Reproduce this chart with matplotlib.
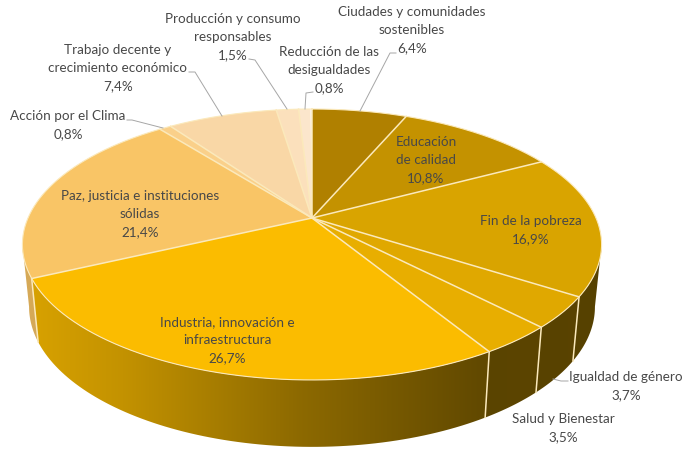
import numpy as np
import matplotlib
matplotlib.use("Agg")
import matplotlib.pyplot as plt
from matplotlib.patches import Polygon
from matplotlib.colors import to_rgb

# slices, clockwise from 12 o'clock
names = ["Ciudades y comunidades\nsostenibles", "Educación\nde calidad", "Fin de la pobreza",
         "Igualdad de género", "Salud y Bienestar", "Industria, innovación e\ninfraestructura",
         "Paz, justicia e instituciones\nsólidas", "Acción por el Clima",
         "Trabajo decente y\ncrecimiento económico", "Producción y consumo\nresponsables",
         "Reducción de las\ndesigualdades"]
values = [6.4, 10.8, 16.9, 3.7, 3.5, 26.7, 21.4, 0.8, 7.4, 1.5, 0.8]
colors = ["#b08000", "#c49200", "#d9a400", "#e0a800", "#e8ae00", "#fbbc00",
          "#f9c566", "#fad08a", "#f9d7a6", "#fbe0bc", "#fbe6cc"]

# label centres in pixels, same order as values
label_x = [412, 426, 531, 626, 563, 227, 140, 68, 118, 233, 329]
label_y = [30, 160, 230, 386, 428, 340, 214, 125, 68, 37, 70]

# leader lines
leaders = {0: [(360, 111), (390, 53), (396, 53)],
           3: [(553, 379), (561, 381), (568, 381)],
           7: [(163, 128), (132, 120), (127, 120)],
           8: [(222, 116), (195, 72), (189, 72)],
           9: [(287, 109), (255, 60), (249, 59)],
           10: [(305, 109), (306, 93), (313, 92)]}

# perspective of the pie top and bottom
CX, CY = 312, 218
K = 0.1955
A, B = 284, 130.3
BOT_SX, BOT_SY, BOT_CY = 0.977, 1.034, 279.4
LINE = "#fbe9bb"


def top(t):
    w = 1 + K * np.cos(t)
    return CX + A * np.sin(t) / w, CY - B * np.cos(t) / w


def bottom(t):
    w = 1 + K * np.cos(t)
    return CX + BOT_SX * A * np.sin(t) / w, BOT_CY - BOT_SY * B * np.cos(t) / w


fig = plt.figure(figsize=(6.82, 4.5), dpi=100)
ax = fig.add_axes([0, 0, 1, 1])

edges = np.cumsum([0] + values) / 100 * 2 * np.pi

# wall only where it faces the viewer, one horizontal gradient per slice
front0 = np.arccos(-K)
front1 = 2 * np.pi - front0
grad_x = np.arange(0, 682)
shade = np.interp(grad_x, [30, 120, 300, 480, 600], [0.86, 0.78, 0.56, 0.39, 0.40])
for i in range(len(values)):
    t0 = max(edges[i], front0)
    t1 = min(edges[i + 1], front1)
    if t1 <= t0:
        continue
    ts = np.linspace(t0, t1, 80)
    xt, yt = top(ts)
    xb, yb = bottom(ts)
    outline = Polygon(np.c_[np.r_[xt, xb[::-1]], np.r_[yt, yb[::-1]]], closed=True,
                      fc="none", ec="none", transform=ax.transData)
    ax.add_patch(outline)
    rgb = np.outer(shade, to_rgb(colors[i]))[None, :, :]
    im = ax.imshow(rgb, extent=(0, 682, 450, 0), aspect="auto", zorder=1, interpolation="bilinear")
    im.set_clip_path(outline)

# seams on the front wall
for e in edges:
    if front0 < e < front1:
        xt, yt = top(e)
        xb, yb = bottom(e)
        ax.plot([xt, xb], [yt, yb], color=LINE, lw=1.1, zorder=2)

# top face
for i in range(len(values)):
    ts = np.linspace(edges[i], edges[i + 1], 80)
    xs, ys = top(ts)
    ax.fill(np.r_[CX, xs], np.r_[CY, ys], color=colors[i], lw=0, zorder=3)
for e in edges[:-1]:
    xt, yt = top(e)
    ax.plot([CX, xt], [CY, yt], color=LINE, lw=1.1, zorder=4)
xs, ys = top(np.linspace(0, 2 * np.pi, 400))
ax.plot(xs, ys, color=LINE, lw=0.8, zorder=4)

# leaders and labels
for i, pts in leaders.items():
    ax.plot(*zip(*pts), color="#a6a6a6", lw=0.7, zorder=5)
for i in range(len(values)):
    txt = names[i] + "\n" + f"{values[i]:.1f}%".replace(".", ",")
    ax.text(label_x[i], label_y[i], txt, ha="center", va="center", family="Lato", fontsize=9.7,
            color="#484848", linespacing=1.58, zorder=6)

ax.set_xlim(0, 682)
ax.set_ylim(450, 0)
ax.axis("off")
fig.savefig("out.png", dpi=100)
